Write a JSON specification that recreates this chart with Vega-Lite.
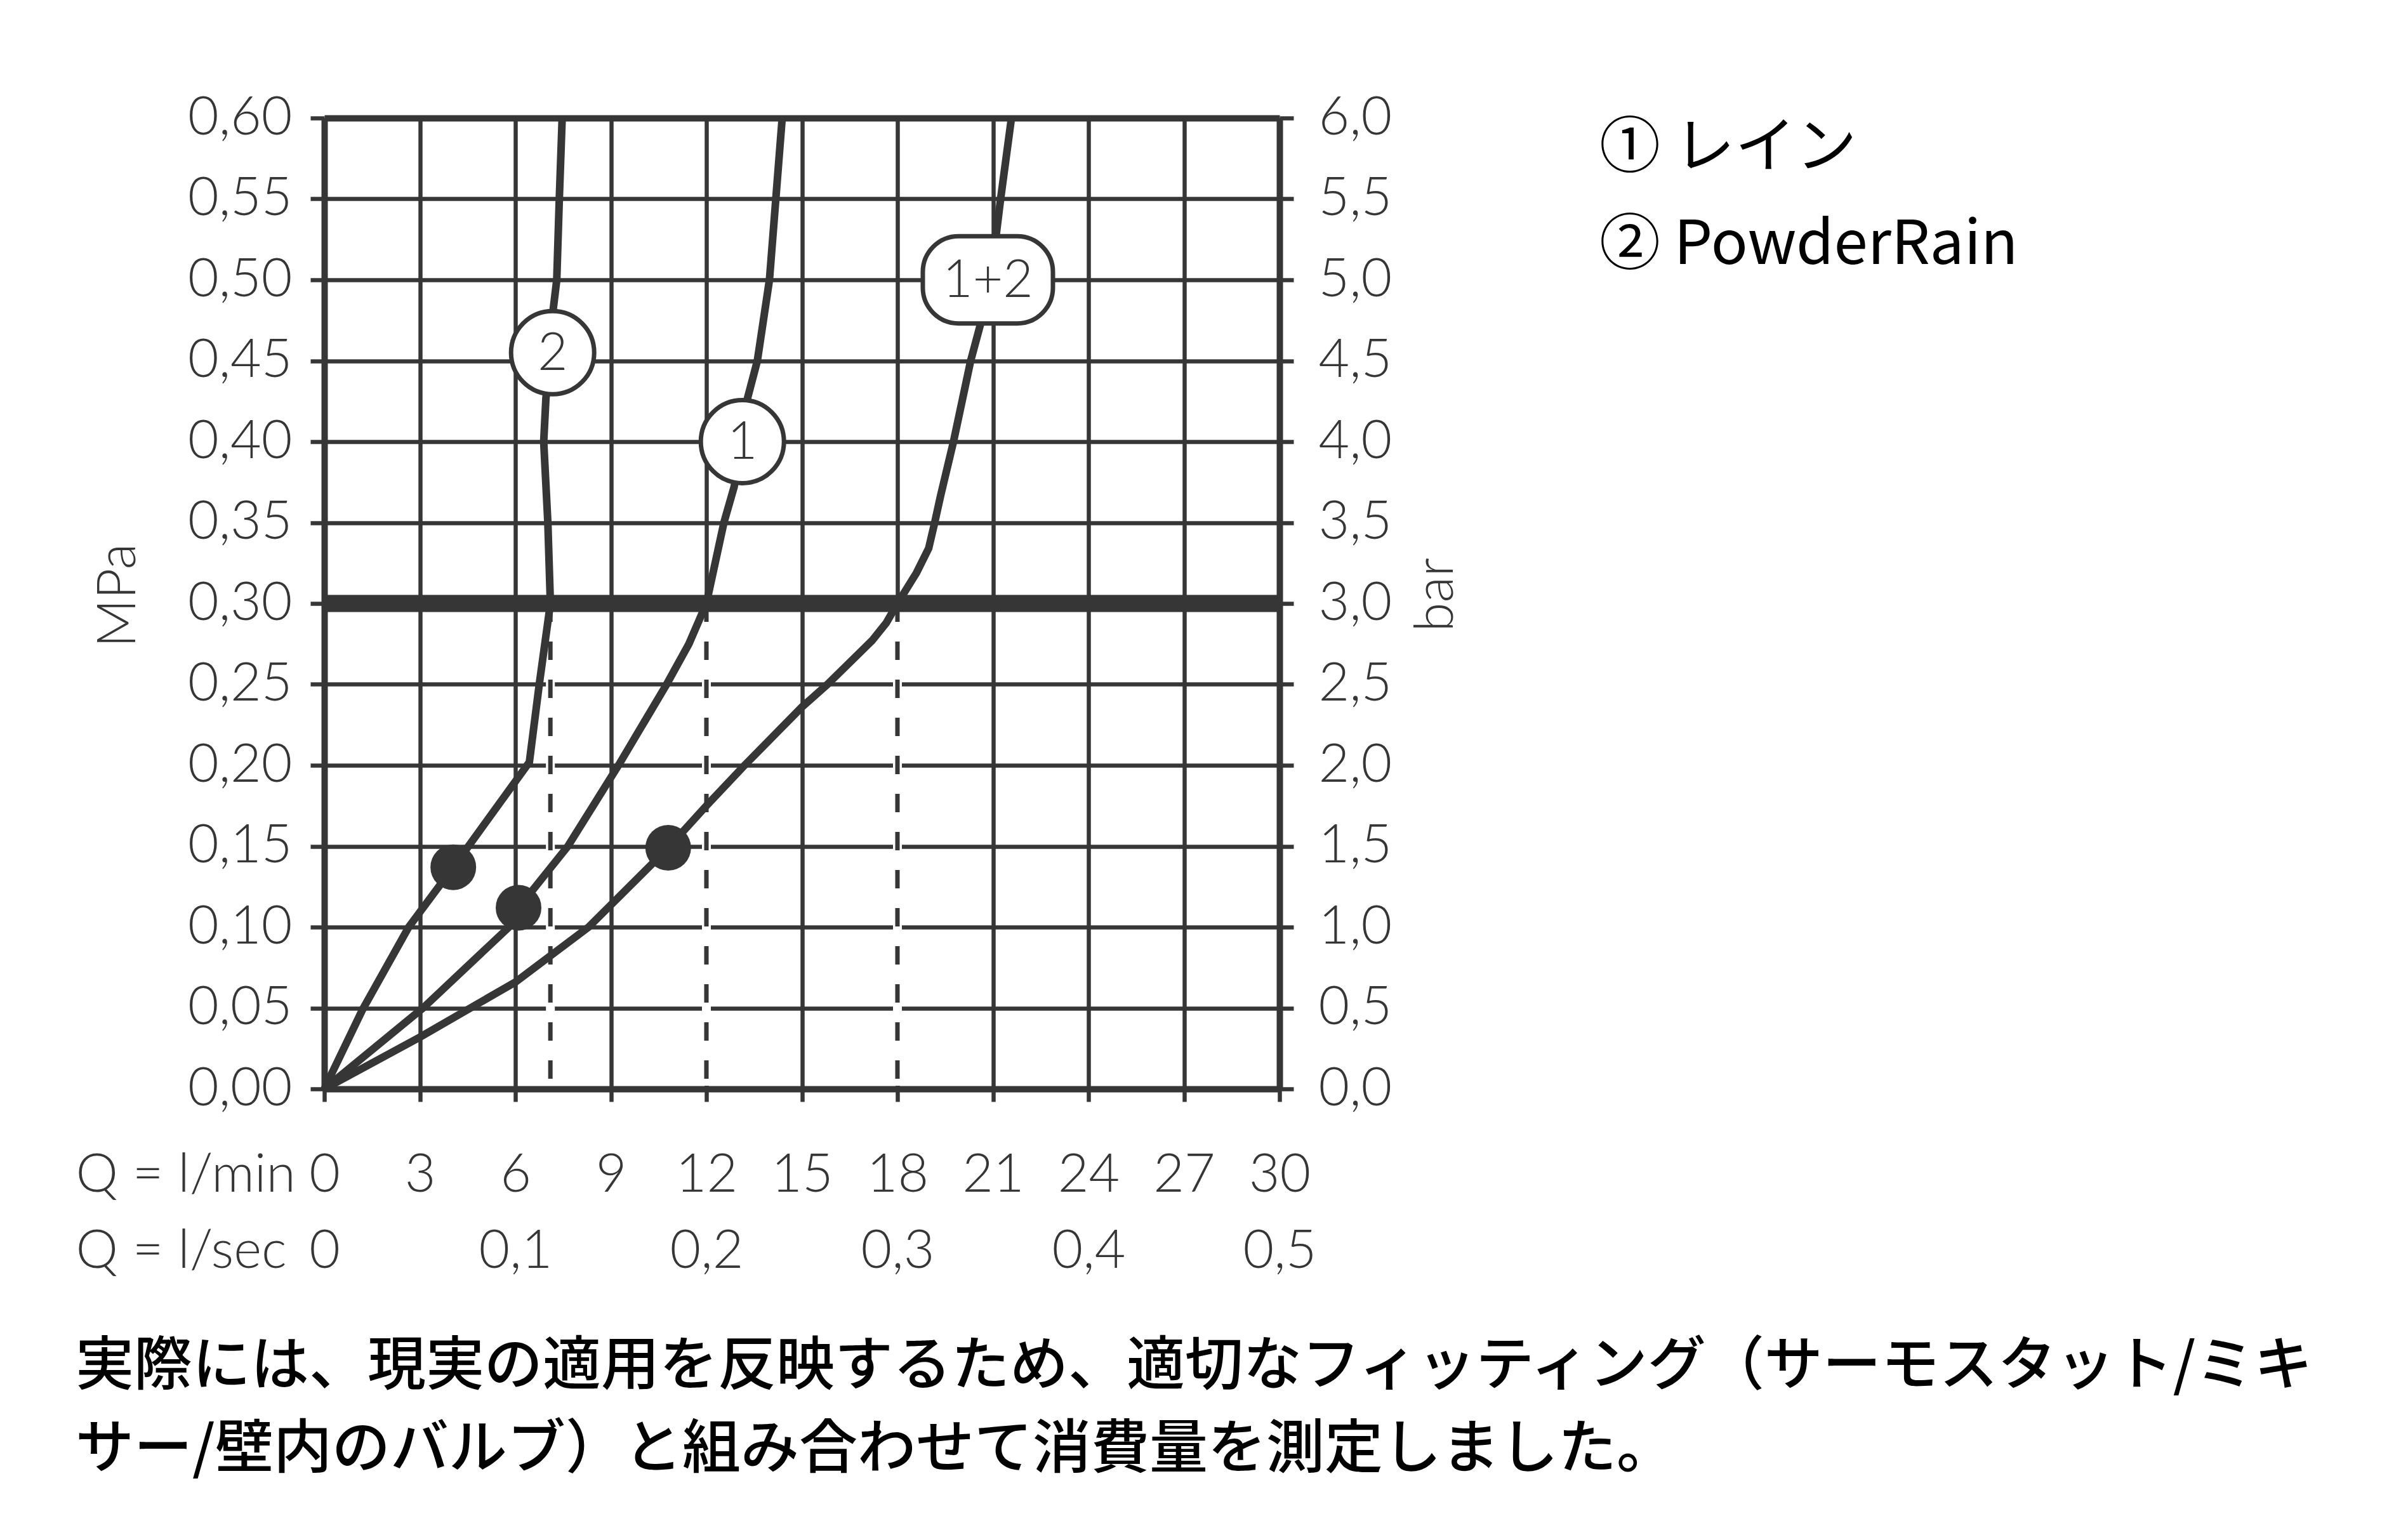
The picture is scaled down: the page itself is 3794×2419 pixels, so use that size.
{
  "$schema": "https://vega.github.io/schema/vega-lite/v6.json",
  "width": 1505,
  "height": 1530,
  "autosize": {"type": "none"},
  "padding": {"left": 511, "top": 186, "right": 1778, "bottom": 703},
  "background": "white",
  "config": {"view": {"stroke": null}, "font": "Lato"},
  "title": {
    "text": ["実際には、現実の適用を反映するため、適切なフィッティング（サーモスタット/ミキ", "サー/壁内のバルブ）と組み合わせて消費量を測定しました。"],
    "orient": "bottom",
    "anchor": "start",
    "frame": "bounds",
    "font": "Noto Sans CJK JP",
    "fontSize": 92,
    "fontWeight": 500,
    "color": "black",
    "lineHeight": 131,
    "baseline": "top",
    "offset": 95
  },
  "datasets": {
    "curves": [
      {"s": "2", "q": 0, "p": 0},
      {"s": "2", "q": 1.2, "p": 0.049},
      {"s": "2", "q": 2.65, "p": 0.1},
      {"s": "2", "q": 4.05, "p": 0.137},
      {"s": "2", "q": 6.44, "p": 0.202},
      {"s": "2", "q": 6.75, "p": 0.25},
      {"s": "2", "q": 7.1, "p": 0.3},
      {"s": "2", "q": 7.02, "p": 0.35},
      {"s": "2", "q": 6.89, "p": 0.4},
      {"s": "2", "q": 6.96, "p": 0.427},
      {"s": "2", "q": 7.17, "p": 0.455},
      {"s": "2", "q": 7.19, "p": 0.482},
      {"s": "2", "q": 7.3, "p": 0.5},
      {"s": "2", "q": 7.38, "p": 0.55},
      {"s": "2", "q": 7.47, "p": 0.6},
      {"s": "1", "q": 0, "p": 0},
      {"s": "1", "q": 3.1, "p": 0.05},
      {"s": "1", "q": 5.8, "p": 0.1},
      {"s": "1", "q": 6.1, "p": 0.112},
      {"s": "1", "q": 7.65, "p": 0.15},
      {"s": "1", "q": 9.24, "p": 0.2},
      {"s": "1", "q": 10.75, "p": 0.25},
      {"s": "1", "q": 11.45, "p": 0.275},
      {"s": "1", "q": 12.0, "p": 0.3},
      {"s": "1", "q": 12.55, "p": 0.35},
      {"s": "1", "q": 12.87, "p": 0.372},
      {"s": "1", "q": 13.13, "p": 0.4},
      {"s": "1", "q": 13.28, "p": 0.426},
      {"s": "1", "q": 13.6, "p": 0.45},
      {"s": "1", "q": 13.98, "p": 0.5},
      {"s": "1", "q": 14.18, "p": 0.55},
      {"s": "1", "q": 14.38, "p": 0.6},
      {"s": "1+2", "q": 0, "p": 0},
      {"s": "1+2", "q": 3.0, "p": 0.032},
      {"s": "1+2", "q": 6.0, "p": 0.066},
      {"s": "1+2", "q": 8.3, "p": 0.1},
      {"s": "1+2", "q": 10.8, "p": 0.149},
      {"s": "1+2", "q": 12.0, "p": 0.175},
      {"s": "1+2", "q": 13.2, "p": 0.2},
      {"s": "1+2", "q": 15.0, "p": 0.236},
      {"s": "1+2", "q": 15.8, "p": 0.25},
      {"s": "1+2", "q": 17.2, "p": 0.277},
      {"s": "1+2", "q": 17.65, "p": 0.288},
      {"s": "1+2", "q": 18.0, "p": 0.3},
      {"s": "1+2", "q": 18.6, "p": 0.319},
      {"s": "1+2", "q": 18.98, "p": 0.334},
      {"s": "1+2", "q": 19.17, "p": 0.35},
      {"s": "1+2", "q": 19.36, "p": 0.367},
      {"s": "1+2", "q": 19.76, "p": 0.4},
      {"s": "1+2", "q": 20.3, "p": 0.45},
      {"s": "1+2", "q": 20.6, "p": 0.472},
      {"s": "1+2", "q": 20.84, "p": 0.5},
      {"s": "1+2", "q": 21.09, "p": 0.526},
      {"s": "1+2", "q": 21.24, "p": 0.55},
      {"s": "1+2", "q": 21.58, "p": 0.6}
    ],
    "flow3bar": [
      {"q": 7.1, "p": 0.3},
      {"q": 12, "p": 0.3},
      {"q": 18, "p": 0.3}
    ],
    "ref": [{"p": 0.3}],
    "dots": [
      {"s": "2", "q": 4.05, "p": 0.137},
      {"s": "1", "q": 6.1, "p": 0.112},
      {"s": "1+2", "q": 10.8, "p": 0.149}
    ],
    "tags": [
      {"s": "2", "q": 7.17, "p": 0.455},
      {"s": "1", "q": 13.13, "p": 0.4},
      {"s": "1+2", "q": 20.84, "p": 0.5}
    ]
  },
  "layer": [
    {
      "data": {"name": "flow3bar"},
      "mark": {"type": "rule", "color": "white", "strokeWidth": 14, "y2Offset": -5},
      "encoding": {
        "x": {"field": "q", "type": "quantitative", "scale": {"domain": [0, 30], "nice": false}},
        "y": {"field": "p", "type": "quantitative", "scale": {"domain": [0, 0.6], "nice": false}, "axis": null},
        "y2": {"datum": 0}
      }
    },
    {
      "data": {"name": "flow3bar"},
      "mark": {"type": "rule", "color": "#363636", "strokeWidth": 7, "strokeDash": [29, 31]},
      "encoding": {
        "x": {"field": "q", "type": "quantitative"},
        "y": {"field": "p", "type": "quantitative", "axis": null},
        "y2": {"datum": 0}
      }
    },
    {
      "data": {"name": "ref"},
      "mark": {"type": "rule", "color": "#363636", "strokeWidth": 27},
      "encoding": {
        "y": {
          "field": "p", "type": "quantitative",
          "axis": {
            "orient": "right",
            "values": [0, 0.05, 0.1, 0.15, 0.2, 0.25, 0.3, 0.35, 0.4, 0.45, 0.5, 0.55, 0.6],
            "grid": false,
            "domain": true, "domainColor": "#363636", "domainWidth": 10,
            "ticks": true, "tickSize": 22, "tickWidth": 6.5, "tickColor": "#363636",
            "labelExpr": "replace(format(datum.value * 10, '.1f'), '.', ',')",
            "labelFont": "Lato", "labelFontSize": 84, "labelFontWeight": 300, "labelColor": "#363636",
            "labelPadding": 39, "labelBaseline": "middle", "labelFlush": false, "labelOverlap": false, "labelBound": false,
            "title": "bar", "titleFont": "Lato", "titleFontSize": 84, "titleFontWeight": 300, "titleColor": "#363636",
            "titleAngle": 270, "titleX": 247, "titleY": 751, "titleAlign": "center", "titleBaseline": "middle"
          }
        }
      }
    },
    {
      "data": {"name": "curves"},
      "mark": {"type": "line", "strokeWidth": 12, "interpolate": "linear"},
      "encoding": {
        "x": {
          "field": "q", "type": "quantitative",
          "axis": {
            "orient": "bottom",
            "values": [0, 3, 6, 9, 12, 15, 18, 21, 24, 27, 30],
            "grid": true, "gridColor": "#363636", "gridWidth": 6.5, "gridOpacity": 1,
            "domain": true, "domainColor": "#363636", "domainWidth": 10,
            "ticks": true, "tickSize": 20, "tickWidth": 6.5, "tickColor": "#363636",
            "labelExpr": "[format(datum.value, 'd'), datum.value % 6 == 0 ? replace(format(datum.value / 60, datum.value == 0 ? 'd' : '.1f'), '.', ',') : '']",
            "labelFont": "Lato", "labelFontSize": 84, "labelFontWeight": 300, "labelColor": "#363636",
            "labelPadding": 141, "labelBaseline": "alphabetic", "labelLineHeight": 120, "labelDx": 15,
            "labelFlush": false, "labelOverlap": false, "labelBound": false,
            "title": ["Q = l/min", "Q = l/sec"], "titleFont": "Lato", "titleFontSize": 84, "titleFontWeight": 300, "titleColor": "#363636",
            "titleAlign": "left", "titleX": -392, "titleY": 161, "titleBaseline": "alphabetic", "titleLineHeight": 120
          }
        },
        "y": {
          "field": "p", "type": "quantitative",
          "axis": {
            "orient": "left",
            "values": [0, 0.05, 0.1, 0.15, 0.2, 0.25, 0.3, 0.35, 0.4, 0.45, 0.5, 0.55, 0.6],
            "grid": true, "gridColor": "#363636", "gridOpacity": 1,
            "gridWidth": {"condition": {"test": "datum.value >= 0.599", "value": 10}, "value": 6.5},
            "domain": true, "domainColor": "#363636", "domainWidth": 10,
            "ticks": true, "tickSize": 22, "tickWidth": 6.5, "tickColor": "#363636",
            "labelExpr": "replace(format(datum.value, '.2f'), '.', ',')",
            "labelFont": "Lato", "labelFontSize": 84, "labelFontWeight": 300, "labelColor": "#363636",
            "labelPadding": 29, "labelBaseline": "middle", "labelFlush": false, "labelOverlap": false, "labelBound": false,
            "title": "MPa", "titleFont": "Lato", "titleFontSize": 84, "titleFontWeight": 300, "titleColor": "#363636",
            "titleAngle": 270, "titleX": -324, "titleY": 752, "titleAlign": "center", "titleBaseline": "middle"
          }
        },
        "order": {"field": "p", "type": "quantitative"},
        "color": {
          "field": "s", "type": "nominal",
          "scale": {"domain": ["1", "2", "1+2"], "range": ["#363636", "#363636", "#363636"]},
          "legend": {
            "orient": "none", "legendX": 1913, "legendY": 0,
            "values": ["1", "2"],
            "labelExpr": "datum.value == '1' ? '①  レイン' : '②  PowderRain'",
            "title": null,
            "symbolOpacity": 0, "symbolSize": 0, "symbolStrokeWidth": 0,
            "labelFont": "Noto Sans CJK JP", "labelFontSize": 96, "labelColor": "black", "labelLimit": 0,
            "rowPadding": 57, "labelOffset": 0, "padding": 0, "direction": "vertical"
          }
        }
      }
    },
    {
      "data": {"name": "dots"},
      "mark": {"type": "point", "filled": true, "shape": "circle", "size": 5184, "color": "#363636", "opacity": 1},
      "encoding": {
        "x": {"field": "q", "type": "quantitative"},
        "y": {"field": "p", "type": "quantitative", "axis": null}
      }
    },
    {
      "data": {"name": "tags"},
      "transform": [{"filter": "datum.s != '1+2'"}],
      "mark": {"type": "point", "filled": true, "shape": "circle", "size": 17161, "fill": "white", "stroke": "#363636", "strokeWidth": 7, "opacity": 1},
      "encoding": {
        "x": {"field": "q", "type": "quantitative"},
        "y": {"field": "p", "type": "quantitative", "axis": null}
      }
    },
    {
      "data": {"name": "tags"},
      "transform": [{"filter": "datum.s == '1+2'"}],
      "mark": {"type": "point", "filled": true, "shape": "M -0.45,-0.67 L 0.45,-0.67 A 0.55,0.55 0 0 1 1,-0.12 L 1,0.12 A 0.55,0.55 0 0 1 0.45,0.67 L -0.45,0.67 A 0.55,0.55 0 0 1 -1,0.12 L -1,-0.12 A 0.55,0.55 0 0 1 -0.45,-0.67 Z", "size": 42025, "fill": "white", "stroke": "#363636", "strokeWidth": 7, "opacity": 1},
      "encoding": {
        "x": {"field": "q", "type": "quantitative"},
        "y": {"field": "p", "type": "quantitative", "axis": null}
      }
    },
    {
      "data": {"name": "tags"},
      "mark": {"type": "text", "font": "Lato", "fontSize": 82, "fontWeight": 300, "color": "#363636", "align": "center", "baseline": "middle", "dy": 2},
      "encoding": {
        "x": {"field": "q", "type": "quantitative"},
        "y": {"field": "p", "type": "quantitative", "axis": null},
        "text": {"field": "s"}
      }
    }
  ],
  "resolve": {"axis": {"y": "independent"}}
}
